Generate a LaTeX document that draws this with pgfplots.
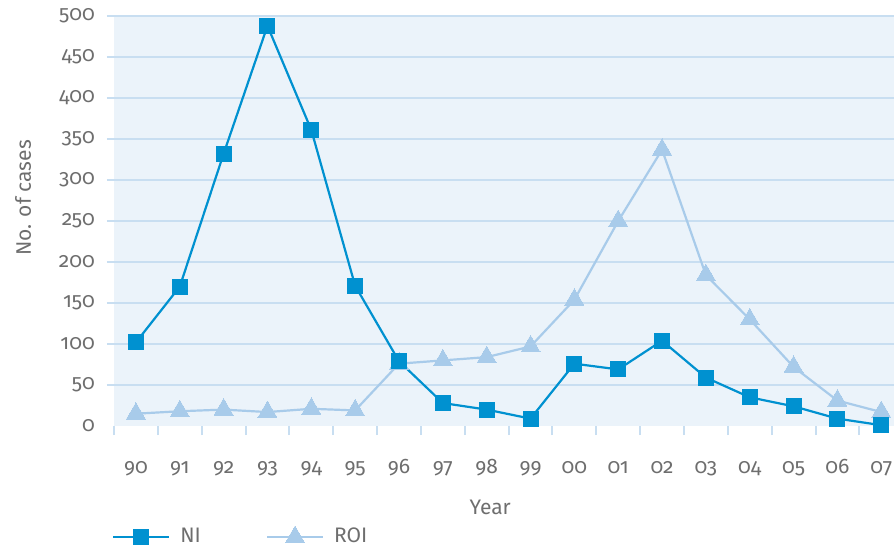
\documentclass[border=0pt]{standalone}
\usepackage{fontspec}
\setmainfont[Numbers=OldStyle]{Fira Sans}
\usepackage{pgfplots}
\pgfplotsset{compat=1.18}
\definecolor{niblue}{HTML}{0091D0}
\definecolor{roiblue}{HTML}{A8CBEA}
\definecolor{bgblue}{HTML}{EBF3FA}
\definecolor{gridblue}{HTML}{C8DEF1}
\definecolor{txtgray}{HTML}{6E6E6E}
\begin{document}
\fontsize{21pt}{25pt}\selectfont
\begin{tikzpicture}
\useasboundingbox (0pt,0pt) rectangle (894pt,550pt);
\begin{axis}[
  at={(107pt,124pt)}, anchor=south west,
  scale only axis, width=787pt, height=410pt,
  xmin=-0.66, xmax=17.29, ymin=0, ymax=500,
  clip=false,
  axis line style={draw=none},
  /pgf/number format/assume math mode=true,
  ytick={0,50,...,500},
  yticklabel style={font=\fontsize{21pt}{25pt}\selectfont, text=txtgray, anchor=east, xshift=-5pt},
  major tick length=0pt,
  xtick={0,...,17},
  xticklabels={90,91,92,93,94,95,96,97,98,99,00,01,02,03,04,05,06,07},
  xticklabel style={font=\fontsize{21pt}{25pt}\selectfont, text=txtgray, anchor=base, yshift=-47pt},
  minor xtick={-0.5,0.5,...,16.5},
  minor tick length=9pt,
  tick align=outside,
  xtick pos=bottom, ytick pos=left,
  minor tick style={draw=gridblue, line width=2pt},
  xlabel={Year},
  xlabel style={font=\fontsize{21pt}{25pt}\selectfont, text=txtgray, at={(axis description cs:0.487,-0.217)}, anchor=base},
  ylabel={No. of cases},
  ylabel style={font=\fontsize{21pt}{25pt}\selectfont, text=txtgray, at={(axis description cs:-0.1067,0.556)}, anchor=center},
  legend columns=2,
  legend style={draw=none, fill=none, font=\fontsize{21pt}{25pt}\selectfont, text=txtgray,
    at={(axis description cs:0,0)}, anchor=west, xshift=2pt, yshift=-111pt,
    /tikz/every odd column/.append style={column sep=8pt},
    /tikz/every even column/.append style={column sep=63pt}},
  legend image code/.code={\draw[mark repeat=2,mark phase=2,#1] plot coordinates {(0pt,0pt) (28pt,0pt) (56pt,0pt)};},
  legend cell align=left,
  nistyle/.style={niblue, line width=2.2pt, mark=square*, mark size=7.5pt, mark options={solid, fill=niblue, draw=niblue, line width=0pt}},
  roistyle/.style={roiblue, line width=2.2pt, mark=triangle*, mark size=11pt, mark options={solid, fill=roiblue, draw=roiblue, line width=0pt}},
]
\fill[bgblue] (axis cs:-0.5,0) rectangle (axis cs:17.29,500);
\draw[gridblue, line width=2.4pt] \foreach \v in {50,100,...,500} { (axis cs:-0.66,\v) -- (axis cs:17.29,\v) };
\addplot[roistyle, forget plot]
coordinates {(0,15) (1,18) (2,20) (3,17) (4,21) (5,19) (6,76) (7,80) (8,84) (9,97) (10,154) (11,250) (12,337) (13,184) (14,130) (15,72) (16,31) (17,17)};
\addplot[nistyle]
coordinates {(0,102) (1,170) (2,332) (3,488) (4,361) (5,171) (6,79) (7,28) (8,20) (9,9) (10,76) (11,69) (12,104) (13,59) (14,35) (15,24) (16,9) (17,1)};
\addlegendentry{NI}
\addlegendimage{roistyle}
\addlegendentry{ROI}
\end{axis}
\end{tikzpicture}
\end{document}
